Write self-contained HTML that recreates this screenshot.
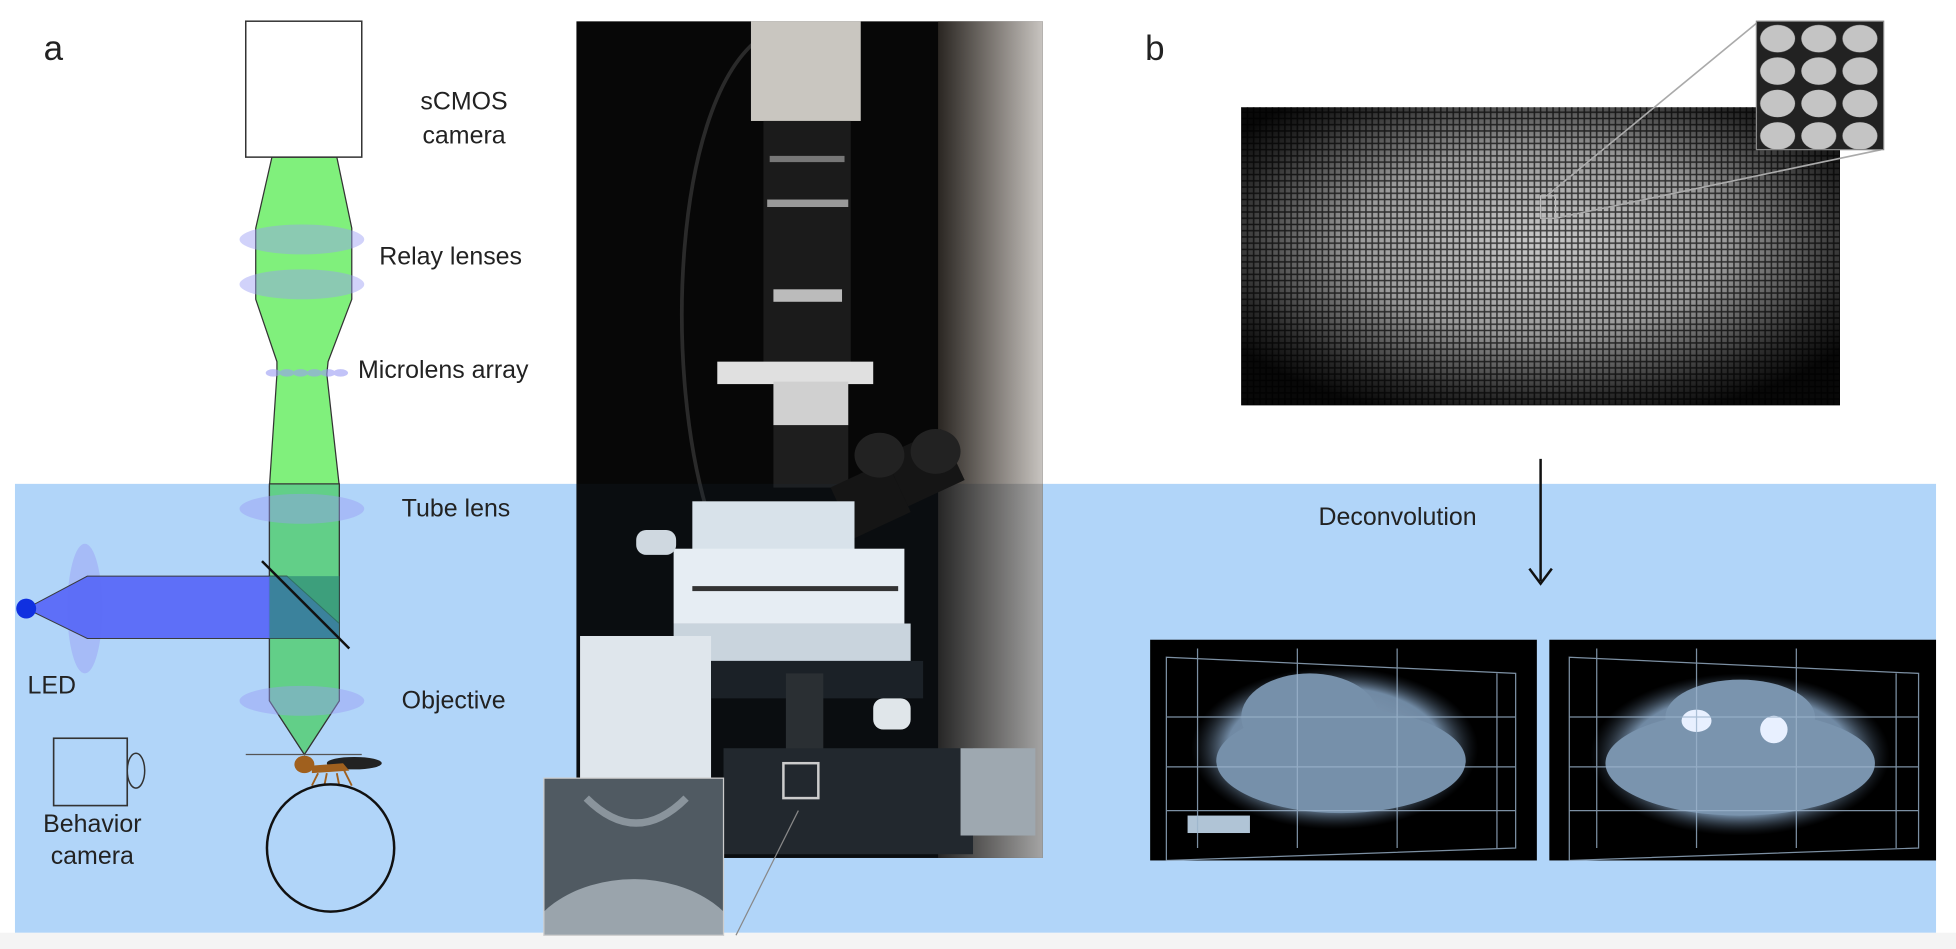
<!DOCTYPE html>
<html><head><style>html,body{margin:0;padding:0;background:#fff;overflow:hidden;width:1956px;height:949px}svg{display:block}text{font-family:"Liberation Sans",sans-serif;fill:#222}</style></head>
<body>
<svg width="1956" height="949" viewBox="0 0 1568 761" preserveAspectRatio="none" xmlns="http://www.w3.org/2000/svg">
<defs>
<radialGradient id="raw" cx="50%" cy="45%" r="62%"><stop offset="0" stop-color="#c8c8c8"/><stop offset="0.5" stop-color="#9a9a9a"/><stop offset="0.85" stop-color="#2a2a2a"/><stop offset="1" stop-color="#080808"/></radialGradient>
<pattern id="grid" width="5" height="5" patternUnits="userSpaceOnUse"><rect width="5" height="5" fill="none" stroke="#000" stroke-width="1.2" opacity="0.7"/></pattern>
<radialGradient id="brain" cx="50%" cy="50%" r="50%"><stop offset="0" stop-color="#8aa3bd"/><stop offset="0.75" stop-color="#7089a3"/><stop offset="1" stop-color="#2a3440" stop-opacity="0"/></radialGradient>
<pattern id="balls" x="1408" y="17" width="33" height="26" patternUnits="userSpaceOnUse"><rect width="33" height="26" fill="#222"/><ellipse cx="17" cy="14" rx="14" ry="11" fill="#c4c4c4"/></pattern>
<linearGradient id="pole" x1="0" x2="1"><stop offset="0" stop-color="#2a2622"/><stop offset="0.5" stop-color="#7a7570"/><stop offset="1" stop-color="#c8c4c0"/></linearGradient>
<clipPath id="insclip"><rect x="436" y="624" width="144" height="126"/></clipPath>
<clipPath id="photoclip"><rect x="462" y="17" width="374" height="671"/></clipPath>
</defs>
<rect x="0" y="0" width="1568" height="761" fill="#fff"/>
<rect x="12" y="388" width="1540" height="360" fill="#b1d5f9"/>
<rect x="0" y="748" width="1568" height="13" fill="#f4f4f4"/>

<text x="35" y="48" font-size="28">a</text>
<text x="918" y="48" font-size="28">b</text>

<polygon points="218,126 270,126 282,183 282,240 263,290 262,300 272,390 272,562 244,605 216,562 216,390 222,300 222,290 205,240 205,183" fill="#80f07c" stroke="#333" stroke-width="1"/>
<polygon points="216,388 272,388 272,562 244,605 216,562" fill="#62cf88" stroke="#333" stroke-width="1"/>
<g fill="#9a9cf5" opacity="0.45">
<ellipse cx="242" cy="192" rx="50" ry="12"/>
<ellipse cx="242" cy="228" rx="50" ry="12"/>
<ellipse cx="242" cy="408" rx="50" ry="12"/>
<ellipse cx="242" cy="562" rx="50" ry="12"/>
<ellipse cx="68" cy="488" rx="14" ry="52"/>
</g>
<g fill="#9a9cf5" opacity="0.6">
<ellipse cx="219" cy="299" rx="6" ry="3"/><ellipse cx="230" cy="299" rx="6" ry="3"/><ellipse cx="241" cy="299" rx="6" ry="3"/><ellipse cx="252" cy="299" rx="6" ry="3"/><ellipse cx="263" cy="299" rx="6" ry="3"/><ellipse cx="273" cy="299" rx="6" ry="3"/>
</g>
<rect x="197" y="17" width="93" height="109" fill="#fff" stroke="#333" stroke-width="1.2"/>
<polygon points="21,488 70,462 230,462 272,500 272,512 70,512" fill="#5a6af8" opacity="0.95" stroke="#333" stroke-width="0.8"/>
<rect x="216" y="462" width="56" height="50" fill="#2e8a78" opacity="0.7"/>
<circle cx="21" cy="488" r="8" fill="#1030e0"/>
<line x1="210" y1="450" x2="280" y2="520" stroke="#111" stroke-width="2"/>
<line x1="197" y1="605" x2="290" y2="605" stroke="#555" stroke-width="1"/>
<ellipse cx="284" cy="612" rx="22" ry="5" fill="#222"/>
<ellipse cx="244" cy="613" rx="8" ry="7" fill="#a0601e"/>
<path d="M250 614 L275 612 L280 618 L250 620 Z" fill="#a0601e"/>
<g stroke="#a0601e" stroke-width="1.5"><line x1="255" y1="620" x2="250" y2="630"/><line x1="262" y1="620" x2="260" y2="630"/><line x1="270" y1="620" x2="272" y2="630"/><line x1="276" y1="618" x2="282" y2="630"/></g>
<circle cx="265" cy="680" r="51" fill="none" stroke="#111" stroke-width="2"/>
<rect x="43" y="592" width="59" height="54" fill="none" stroke="#333" stroke-width="1.3"/>
<ellipse cx="109" cy="618" rx="7" ry="14" fill="none" stroke="#333" stroke-width="1.2"/>

<g font-size="20">
<text x="372" y="88" text-anchor="middle">sCMOS</text>
<text x="372" y="115" text-anchor="middle">camera</text>
<text x="304" y="212">Relay lenses</text>
<text x="287" y="303">Microlens array</text>
<text x="322" y="414">Tube lens</text>
<text x="322" y="568">Objective</text>
<text x="22" y="556">LED</text>
<text x="74" y="667" text-anchor="middle">Behavior</text>
<text x="74" y="693" text-anchor="middle">camera</text>
</g>

<g clip-path="url(#photoclip)">
<rect x="462" y="17" width="374" height="671" fill="#070707"/>
<rect x="752" y="17" width="84" height="671" fill="url(#pole)"/>
<path d="M610 30 C540 80 530 300 570 420" stroke="#2a2a2a" stroke-width="3" fill="none"/>
<rect x="602" y="17" width="88" height="80" fill="#c9c6c0"/>
<rect x="612" y="97" width="70" height="200" fill="#1b1b1b"/>
<rect x="617" y="125" width="60" height="5" fill="#777"/>
<rect x="615" y="160" width="65" height="6" fill="#999"/>
<rect x="620" y="232" width="55" height="10" fill="#bbb"/>
<rect x="575" y="290" width="125" height="18" fill="#e0e0e0"/>
<rect x="620" y="306" width="60" height="35" fill="#d0d0d0"/>
<rect x="620" y="341" width="60" height="50" fill="#1e1e1e"/>
<rect x="462" y="388" width="374" height="300" fill="#1a2835" opacity="0.2"/>
<g transform="rotate(-25 715 390)"><rect x="670" y="370" width="50" height="45" fill="#151515"/><rect x="720" y="365" width="50" height="45" fill="#151515"/></g>
<ellipse cx="705" cy="365" rx="20" ry="18" fill="#222"/><ellipse cx="750" cy="362" rx="20" ry="18" fill="#222"/>
<rect x="555" y="402" width="130" height="40" fill="#d8e2ea"/>
<rect x="540" y="440" width="185" height="60" fill="#e6edf3"/>
<rect x="555" y="470" width="165" height="4" fill="#333"/>
<rect x="540" y="500" width="190" height="30" fill="#c9d4dd"/>
<rect x="465" y="510" width="105" height="115" fill="#dfe6ec"/>
<rect x="510" y="425" width="32" height="20" rx="8" fill="#cfd8e0"/>
<rect x="570" y="530" width="170" height="30" fill="#1b2127"/>
<rect x="630" y="540" width="30" height="70" fill="#2a2f33"/>
<rect x="700" y="560" width="30" height="25" rx="8" fill="#e0e6ea"/>
<rect x="580" y="600" width="200" height="85" fill="#22282e"/>
<rect x="770" y="600" width="60" height="70" fill="#9ea8b0"/>
<rect x="628" y="612" width="28" height="28" fill="none" stroke="#ccc" stroke-width="2"/>
</g>
<g clip-path="url(#insclip)">
<rect x="436" y="624" width="144" height="126" fill="#505a62"/>
<ellipse cx="508" cy="770" rx="90" ry="65" fill="#9aa4ac"/>
<path d="M470 640 Q510 680 550 640" stroke="#8a949c" stroke-width="6" fill="none"/>
</g>
<rect x="436" y="624" width="144" height="126" fill="none" stroke="#ccc" stroke-width="1"/>
<line x1="590" y1="750" x2="640" y2="650" stroke="#888" stroke-width="1"/>

<rect x="995" y="86" width="480" height="239" fill="url(#raw)"/>
<rect x="995" y="86" width="480" height="239" fill="url(#grid)"/>
<rect x="1235" y="157" width="12" height="18" fill="none" stroke="#bbb" stroke-width="1"/>
<line x1="1240" y1="157" x2="1410" y2="17" stroke="#aaa" stroke-width="1.3"/>
<line x1="1247" y1="175" x2="1508" y2="120" stroke="#aaa" stroke-width="1.3"/>
<rect x="1408" y="17" width="102" height="103" fill="url(#balls)" stroke="#888" stroke-width="1"/>

<line x1="1235" y1="368" x2="1235" y2="466" stroke="#111" stroke-width="2"/>
<path d="M1226 456 L1235 468 L1244 456" fill="none" stroke="#111" stroke-width="2"/>
<text x="1057" y="421" font-size="20">Deconvolution</text>

<rect x="922" y="513" width="310" height="177" fill="#000"/>
<ellipse cx="1070" cy="600" rx="115" ry="65" fill="url(#brain)"/>
<ellipse cx="1050" cy="575" rx="55" ry="35" fill="#7690aa"/>
<ellipse cx="1075" cy="610" rx="100" ry="42" fill="#7690aa"/>
<rect x="952" y="654" width="50" height="14" fill="#b0c4d6"/>
<g stroke="#9cb4cc" stroke-width="1" fill="none" opacity="0.8">
<path d="M935 527 L1215 540 L1215 680 L935 690 Z"/><line x1="960" y1="520" x2="960" y2="680"/><line x1="1040" y1="520" x2="1040" y2="680"/><line x1="1120" y1="520" x2="1120" y2="680"/><line x1="1200" y1="540" x2="1200" y2="680"/>
<line x1="935" y1="575" x2="1215" y2="575"/><line x1="935" y1="615" x2="1215" y2="615"/><line x1="935" y1="650" x2="1215" y2="650"/>
</g>
<rect x="1242" y="513" width="310" height="177" fill="#000"/>
<ellipse cx="1395" cy="605" rx="120" ry="65" fill="url(#brain)"/>
<ellipse cx="1395" cy="612" rx="108" ry="42" fill="#7a94ae"/>
<ellipse cx="1395" cy="575" rx="60" ry="30" fill="#7a94ae"/>
<ellipse cx="1360" cy="578" rx="12" ry="9" fill="#e8f0ff"/><ellipse cx="1422" cy="585" rx="11" ry="11" fill="#e8f0ff"/>
<g stroke="#9cb4cc" stroke-width="1" fill="none" opacity="0.8">
<path d="M1258 527 L1538 540 L1538 680 L1258 690 Z"/><line x1="1280" y1="520" x2="1280" y2="680"/><line x1="1360" y1="520" x2="1360" y2="680"/><line x1="1440" y1="520" x2="1440" y2="680"/><line x1="1520" y1="540" x2="1520" y2="680"/>
<line x1="1258" y1="575" x2="1538" y2="575"/><line x1="1258" y1="615" x2="1538" y2="615"/><line x1="1258" y1="650" x2="1538" y2="650"/>
</g>
</svg>
</body></html>
